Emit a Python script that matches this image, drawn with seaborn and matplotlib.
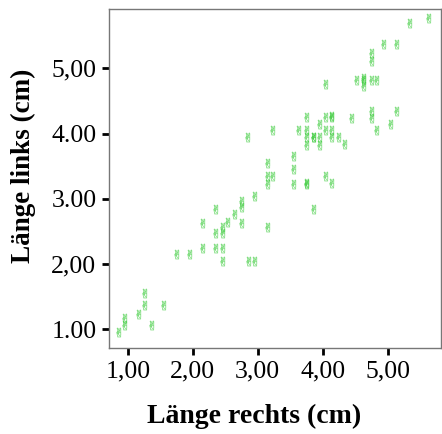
import numpy as np
import pandas as pd
import seaborn as sns
import matplotlib.pyplot as plt
from matplotlib.textpath import TextPath
from matplotlib.font_manager import FontProperties
from matplotlib.path import Path

laenge_rechts = [0.83, 0.92, 0.92, 1.14, 1.23, 1.23, 1.34, 1.53,
                 1.73, 1.93, 2.13, 2.13, 2.33, 2.33, 2.33, 2.43, 2.43, 2.43, 2.43,
                 2.51, 2.62, 2.72, 2.72, 2.72, 2.82, 2.83, 2.92, 2.92,
                 3.12, 3.12, 3.12, 3.12, 3.21, 3.21, 3.52, 3.52, 3.52, 3.61,
                 3.72, 3.72, 3.72, 3.72, 3.72, 3.72, 3.83, 3.83, 3.83, 3.92, 3.92, 3.92,
                 4.02, 4.02, 4.02, 4.02, 4.11, 4.11, 4.11, 4.11, 4.11, 4.22, 4.31,
                 4.42, 4.50, 4.60, 4.60, 4.60, 4.73, 4.73, 4.73, 4.73, 4.73,
                 4.80, 4.80, 4.91, 5.02, 5.11, 5.11, 5.31, 5.61]
laenge_links = [0.95, 1.06, 1.17, 1.24, 1.37, 1.55, 1.06, 1.37,
                2.16, 2.16, 2.25, 2.63, 2.25, 2.47, 2.85, 2.05, 2.25, 2.47, 2.56,
                2.65, 2.76, 2.63, 2.87, 2.96, 3.95, 2.05, 2.05, 3.05,
                2.56, 3.23, 3.35, 3.55, 3.35, 4.05, 3.23, 3.46, 3.66, 4.05,
                3.23, 3.24, 3.83, 3.95, 4.05, 4.25, 2.85, 3.95, 3.95, 3.83, 3.95, 4.14,
                3.35, 4.05, 4.25, 4.76, 3.24, 3.95, 4.05, 4.25, 4.27, 3.95, 3.84,
                4.24, 4.83, 4.73, 4.83, 4.85, 4.24, 4.34, 4.83, 5.12, 5.23,
                4.05, 4.83, 5.38, 4.14, 4.34, 5.38, 5.69, 5.78]

x_ticks = [1, 2, 3, 4, 5]
x_labels = ['1,00', '2,00', '3,00', '4,00', '5,00']
y_ticks = [1, 2, 3, 4, 5]
y_labels = ['1.00', '2,00', '3.00', '4.00', '5,00']

df = pd.DataFrame({'rechts': laenge_rechts, 'links': laenge_links})

# Hand-Symbol als Marker
tp = TextPath((0, 0), '\u270C', size=1, prop=FontProperties(family='DejaVu Sans'))
verts = tp.vertices.copy()
verts -= (verts.min(axis=0) + verts.max(axis=0)) / 2
hand = Path(verts, tp.codes)

sns.set_style('white')
plt.rcParams['font.family'] = ['Liberation Serif', 'DejaVu Serif']
plt.rcParams['text.color'] = 'black'
plt.rcParams['axes.labelcolor'] = 'black'

fig = plt.figure(figsize=(4.42, 4.34), dpi=100)
ax = fig.add_axes([0.2466, 0.198, 0.751, 0.781])

sns.scatterplot(data=df, x='rechts', y='links', ax=ax,
                marker=hand, s=45, color='#2ec82e', alpha=0.45,
                linewidth=0.3, edgecolor='#2ec82e', legend=False)

ax.set_xlim(0.71, 5.82)
ax.set_ylim(0.71, 5.91)
ax.set_xticks(x_ticks)
ax.set_xticklabels(x_labels)
ax.set_yticks(y_ticks)
ax.set_yticklabels(y_labels)
ax.tick_params(axis='both', direction='out', length=5, width=2,
               color='black', labelcolor='black', labelsize=18.5, pad=4,
               bottom=True, left=True)

for sp in ax.spines.values():
    sp.set_color('#777777')
    sp.set_linewidth(1)

ax.set_xlabel('Länge rechts (cm)', fontsize=20, fontweight='bold', labelpad=14)
ax.set_ylabel('Länge links (cm)', fontsize=19.5, fontweight='bold', labelpad=11)
ax.xaxis.set_label_coords(0.438, -0.165)
ax.yaxis.label.set_position((0, 0.537))

fig.savefig('out.png', dpi=100)
